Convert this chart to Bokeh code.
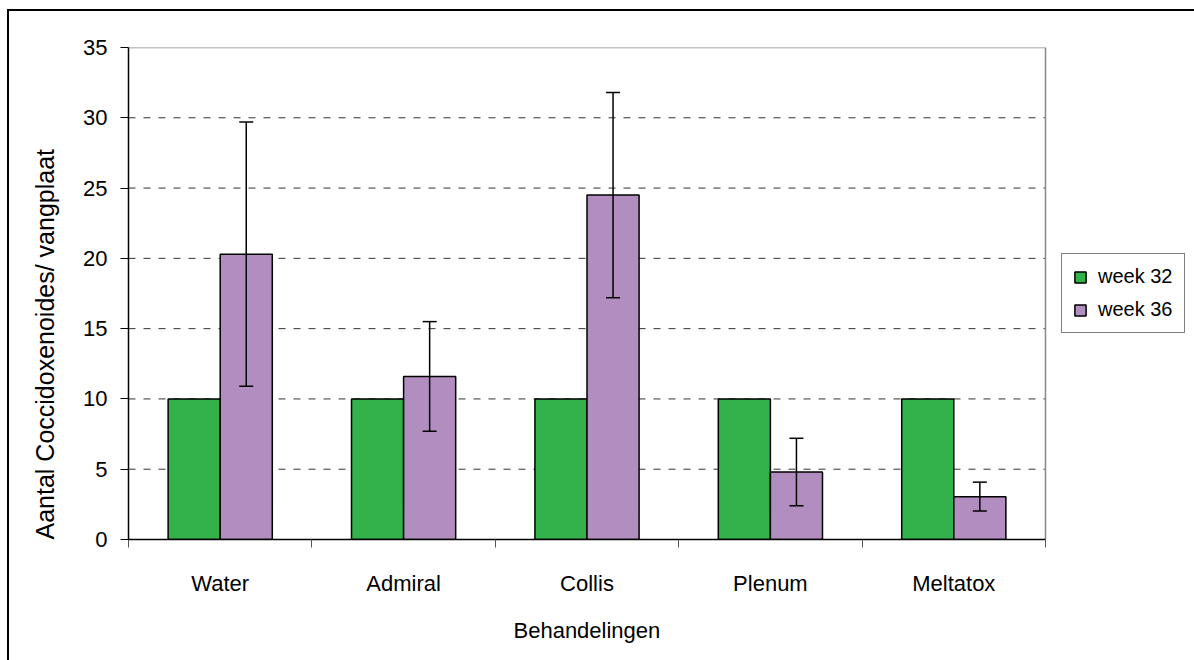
from bokeh.plotting import figure
from bokeh.models import (ColumnDataSource, FixedTicker, Whisker, Legend, LegendItem,
                          TeeHead, Range1d, Title)
from bokeh.embed import file_html
from bokeh.resources import INLINE

categories = ["Water", "Admiral", "Collis", "Plenum", "Meltatox"]
week32 = [10, 10, 10, 10, 10]
week36 = [20.3, 11.6, 24.5, 4.8, 3.05]
week36_err = [9.4, 3.9, 7.3, 2.4, 1.03]
y_ticks = [0, 5, 10, 15, 20, 25, 30, 35]
x_title = "Behandelingen"
y_title = "Aantal Coccidoxenoides/ vangplaat"

FONT = "Liberation Sans"
GREEN = "#33b24b"
PURPLE = "#b28ec0"
bw = 0.284

W, H = 1194, 660
LEFT, TOP, BOTTOM = 128, 47, 121
PLOT_W = 917  # pixel width of the bar area

n = len(categories)
centers = [i + 0.5 for i in range(n)]
x32 = [c - bw / 2 for c in centers]
x36 = [c + bw / 2 for c in centers]
x_end = n * (W - LEFT) / PLOT_W

src32 = ColumnDataSource(dict(x=x32, top=week32))
src36 = ColumnDataSource(dict(x=x36, top=week36,
                              upper=[v + e for v, e in zip(week36, week36_err)],
                              lower=[v - e for v, e in zip(week36, week36_err)]))

p = figure(width=W, height=H, output_backend="svg", toolbar_location=None,
           x_range=Range1d(0, x_end), y_range=Range1d(0, y_ticks[-1]),
           min_border_left=LEFT, min_border_right=0, min_border_top=TOP,
           min_border_bottom=BOTTOM)
p.styles = {"background": "linear-gradient(#000,#000) 7px 9px / 2px 100% no-repeat, "
                          "linear-gradient(#000,#000) 7px 9px / 100% 2px no-repeat, #fff"}
p.outline_line_color = None
p.background_fill_color = "white"
p.border_fill_color = None
p.xgrid.grid_line_color = None
p.ygrid.grid_line_color = None

# dashed gridlines over the bar area
gy = y_ticks[1:-1]
p.segment(x0=[0] * len(gy), x1=[n] * len(gy), y0=gy, y1=gy,
          line_color="#333333", line_dash="7 8", line_width=1)
# plot-area frame (top and right, gray)
p.segment(x0=[0, n], x1=[n, n], y0=[y_ticks[-1], 0], y1=[y_ticks[-1], y_ticks[-1]],
          line_color="#888888", line_width=1.5)

r32 = p.vbar(x="x", top="top", width=bw, bottom=0, source=src32,
             fill_color=GREEN, line_color="black", line_width=1.5)
r36 = p.vbar(x="x", top="top", width=bw, bottom=0, source=src36,
             fill_color=PURPLE, line_color="black", line_width=1.5)

wh = Whisker(base="x", upper="upper", lower="lower", source=src36,
             line_color="black", line_width=1.5, level="overlay",
             upper_head=TeeHead(size=14, line_color="black", line_width=1.5),
             lower_head=TeeHead(size=14, line_color="black", line_width=1.5))
p.add_layout(wh)

# x axis
p.xaxis.bounds = (0, n)
p.xaxis.ticker = FixedTicker(ticks=centers, minor_ticks=list(range(n + 1)))
p.xaxis.major_label_overrides = {c: lab for c, lab in zip(centers, categories)}
p.xaxis.major_tick_out = 0
p.xaxis.major_tick_in = 0
p.xaxis.minor_tick_out = 8
p.xaxis.minor_tick_in = 0
p.xaxis.minor_tick_line_color = "#555555"
p.xaxis.axis_line_color = "black"
p.xaxis.axis_line_width = 1.5
p.xaxis.major_label_text_font = FONT
p.xaxis.major_label_text_font_size = "22px"
p.xaxis.major_label_text_color = "black"
p.xaxis.major_label_standoff = 23

# y axis
p.yaxis.ticker = FixedTicker(ticks=y_ticks, minor_ticks=[])
p.yaxis.major_tick_out = 8
p.yaxis.major_tick_in = 0
p.yaxis.axis_line_color = "black"
p.yaxis.axis_line_width = 1.5
p.yaxis.major_label_text_font = FONT
p.yaxis.major_label_text_font_size = "22px"
p.yaxis.major_label_text_color = "black"
p.yaxis.major_label_standoff = 13

has_padding = "padding" in Title.properties()
PX, PY = 12, 17

tx = Title(text=x_title, align="left", offset=385 - (PX if has_padding else 0),
           text_font=FONT, text_font_size="22px", text_font_style="normal",
           text_color="black")
ty = Title(text=y_title, align="left", offset=-(PY if has_padding else 0),
           text_font=FONT, text_font_size="25px", text_font_style="normal",
           text_color="black")
if has_padding:
    tx.padding = PX
    ty.padding = PY
p.add_layout(tx, "below")
p.add_layout(ty, "left")

legend = Legend(items=[LegendItem(label="week 32", renderers=[r32]),
                       LegendItem(label="week 36", renderers=[r36])],
                location=(933, 206))
legend.border_line_color = "black"
legend.border_line_width = 1
legend.background_fill_color = "white"
legend.label_text_font = FONT
legend.label_text_font_size = "20px"
legend.label_text_color = "black"
legend.glyph_width = 14
legend.glyph_height = 14
legend.label_standoff = 11
legend.spacing = 10
legend.padding = 11
legend.margin = 0
p.add_layout(legend, "center")

open("out.html", "w").write(file_html(p, INLINE))
